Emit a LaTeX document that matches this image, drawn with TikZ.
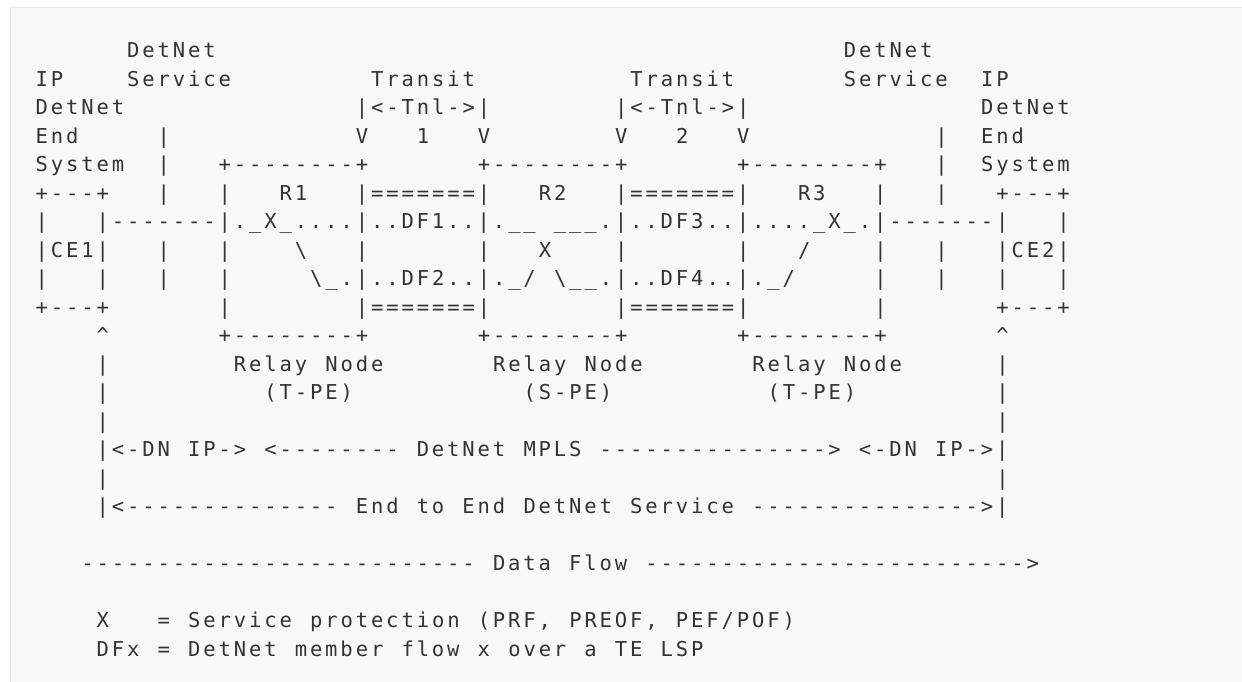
\documentclass[tikz,border=0pt]{standalone}
\usepackage{fontspec}
\setmonofont{DejaVu Sans Mono}
\definecolor{ink}{HTML}{333333}
\definecolor{paper}{HTML}{F8F8F8}
\definecolor{rim}{HTML}{E8E8E8}
\newlength\cellw
\setlength\cellw{15.25pt}
\newcommand\asciifont{\ttfamily\fontsize{20.5pt}{24pt}\selectfont}
% one fixed-width cell per character, ~ is a blank cell
\ExplSyntaxOn
\NewDocumentCommand \cells { m }
  {
    \str_map_inline:nn {#1}
      {
        \str_if_eq:eeTF {##1} { \c_tilde_str }
          { \hbox_to_wd:nn { \cellw } { \hss } }
          { \hbox_to_wd:nn { \cellw } { \hss ##1 \hss } }
      }
  }
\ExplSyntaxOff
\tikzset{asc/.style={anchor=base west,inner sep=0pt,outer sep=0pt,font=\asciifont,text=ink}}
% \asc{row}{column}{text}
\newcommand\asc[3]{\node[asc] (a#1-#2) at (#2,#1) {\cells{#3}};}
\begin{document}
\begin{tikzpicture}[x=15.25pt,y=-28.5pt]
	\useasboundingbox (-18.825pt,29pt) rectangle (1223.175pt,-652pt);
	\fill[white] (-18.825pt,29pt) rectangle (1223.175pt,-652pt);
	\filldraw[fill=paper,draw=rim,line width=1pt] (-8.825pt,22pt) rectangle (1240pt,-670pt);
	% end systems and tunnels
	\asc{1}{7}{DetNet} \asc{1}{54}{DetNet}
	\asc{2}{1}{IP} \asc{2}{7}{Service} \asc{2}{23}{Transit} \asc{2}{40}{Transit} \asc{2}{54}{Service} \asc{2}{63}{IP}
	\asc{3}{1}{DetNet} \asc{3}{22}{|<-Tnl->|} \asc{3}{39}{|<-Tnl->|} \asc{3}{63}{DetNet}
	\asc{4}{1}{End} \asc{4}{9}{|} \asc{4}{22}{V~~~1~~~V} \asc{4}{39}{V~~~2~~~V} \asc{4}{60}{|} \asc{4}{63}{End}
	\asc{5}{1}{System} \asc{5}{9}{|} \asc{5}{13}{+--------+} \asc{5}{30}{+--------+} \asc{5}{47}{+--------+} \asc{5}{60}{|} \asc{5}{63}{System}
	% relay nodes
	\asc{6}{1}{+---+} \asc{6}{9}{|} \asc{6}{13}{|~~~R1~~~|=======|~~~R2~~~|=======|~~~R3~~~|} \asc{6}{60}{|} \asc{6}{64}{+---+}
	\asc{7}{1}{|} \asc{7}{5}{|-------|._X_....|..DF1..|.__~___.|..DF3..|...._X_.|-------|} \asc{7}{68}{|}
	\asc{8}{1}{|CE1|} \asc{8}{9}{|} \asc{8}{13}{|~~~~\~~~|} \asc{8}{30}{|~~~X~~~~|} \asc{8}{47}{|~~~/~~~~|} \asc{8}{60}{|} \asc{8}{64}{|CE2|}
	\asc{9}{1}{|~~~|} \asc{9}{9}{|} \asc{9}{13}{|~~~~~\_.|..DF2..|._/~\__.|..DF4..|._/~~~~~|} \asc{9}{60}{|} \asc{9}{64}{|~~~|}
	\asc{10}{1}{+---+} \asc{10}{13}{|~~~~~~~~|=======|~~~~~~~~|=======|~~~~~~~~|} \asc{10}{64}{+---+}
	\asc{11}{5}{^} \asc{11}{13}{+--------+} \asc{11}{30}{+--------+} \asc{11}{47}{+--------+} \asc{11}{64}{^}
	\asc{12}{5}{|} \asc{12}{14}{Relay~Node} \asc{12}{31}{Relay~Node} \asc{12}{48}{Relay~Node} \asc{12}{64}{|}
	\asc{13}{5}{|} \asc{13}{16}{(T-PE)} \asc{13}{33}{(S-PE)} \asc{13}{49}{(T-PE)} \asc{13}{64}{|}
	% spans
	\asc{14}{5}{|} \asc{14}{64}{|}
	\asc{15}{5}{|<-DN~IP->~<--------~DetNet~MPLS~--------------->~<-DN~IP->|}
	\asc{16}{5}{|} \asc{16}{64}{|}
	\asc{17}{5}{|<--------------~End~to~End~DetNet~Service~--------------->|}
	\asc{19}{4}{--------------------------~Data~Flow~------------------------->}
	% legend
	\asc{21}{5}{X} \asc{21}{9}{=~Service~protection~(PRF,~PREOF,~PEF/POF)}
	\asc{22}{5}{DFx~=~DetNet~member~flow~x~over~a~TE~LSP}
\end{tikzpicture}
\end{document}
